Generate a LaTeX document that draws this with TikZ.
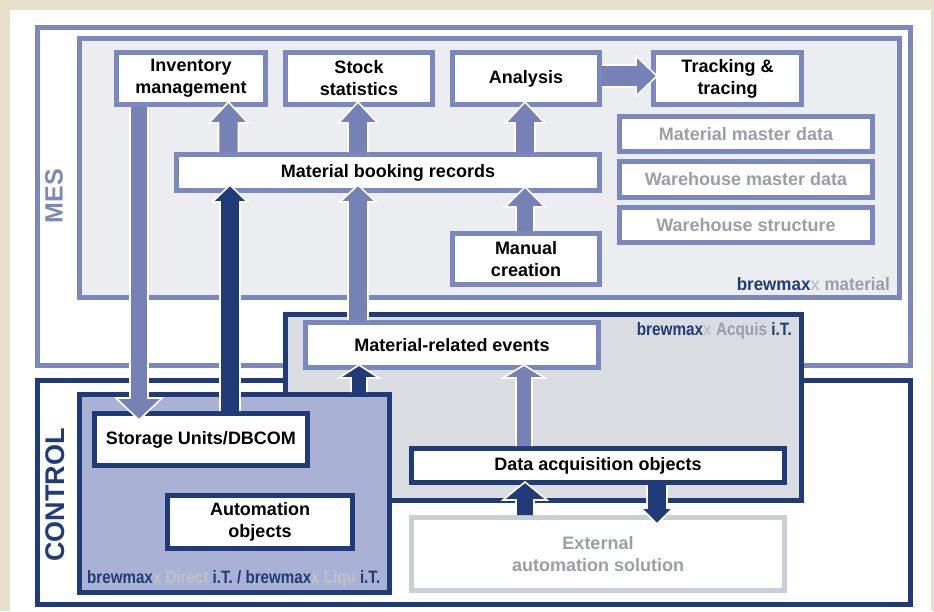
\documentclass[tikz,border=0pt]{standalone}
\usepackage{fontspec}
\setmainfont{Liberation Sans}
\usetikzlibrary{calc}
\definecolor{beige}{HTML}{E9E0CB}
\definecolor{lb}{HTML}{7B88BE}
\definecolor{la}{HTML}{7682B5}
\definecolor{db}{HTML}{213B78}
\definecolor{dirfill}{HTML}{A9B2D4}
\definecolor{acqfill}{HTML}{D9DCE0}
\definecolor{mesfill}{HTML}{ECEDF1}
\definecolor{gtxt}{HTML}{999EA7}
\definecolor{lgx}{HTML}{BEC2C9}
\definecolor{extb}{HTML}{CBCFD5}
\newcommand\blockarr[6]{%
  \coordinate (as) at (#2);
  \coordinate (at) at (#3);
  \coordinate (ab) at ($(at)!#6!(as)$);
  \fill[#1] ($(as)!#4!90:(at)$) -- ($(ab)!#4!90:(at)$) -- ($(ab)!#5!90:(at)$) -- (at)
    -- ($(ab)!#5!-90:(at)$) -- ($(ab)!#4!-90:(at)$) -- ($(as)!#4!-90:(at)$) -- cycle;
  \draw[white, line width=1.6pt, line join=miter] ($(as)!#4!90:(at)$) -- ($(ab)!#4!90:(at)$) -- ($(ab)!#5!90:(at)$) -- (at)
    -- ($(ab)!#5!-90:(at)$) -- ($(ab)!#4!-90:(at)$) -- ($(as)!#4!-90:(at)$);
}
\tikzset{
  cont/.style={rectangle, line width=5pt, inner sep=0pt},
  box/.style={rectangle, draw=lb, line width=5pt, fill=white, inner sep=0pt, align=center,
    font=\bfseries\fontsize{18}{22}\selectfont},
  dbox/.style={box, draw=db},
  gbox/.style={box, text=gtxt},
}
\begin{document}
\begin{tikzpicture}[x=1pt,y=-1pt]
\useasboundingbox (0,0) rectangle (934,611);
\fill[beige] (0,0) rectangle (934,611);
\fill[white] (10,10) rectangle (931,611);
% containers
\node[cont, draw=lb, fill=white, minimum width=872.5pt, minimum height=337.5pt] (mes) at (473.75,196.25) {};
\node[cont, draw=lb, fill=mesfill, minimum width=820pt, minimum height=259pt] (mat) at (489.5,168) {};
\node[cont, draw=db, fill=white, minimum width=872.5pt, minimum height=224pt] (ctl) at (473.75,492.5) {};
\node[cont, draw=db, fill=acqfill, minimum width=516pt, minimum height=186pt] (acq) at (543.5,407.5) {};
\node[cont, draw=db, fill=dirfill, minimum width=310pt, minimum height=198pt] (dir) at (234.5,493.5) {};
% MES boxes
\node[box, minimum width=149pt, minimum height=52pt] (inv) at (191,78.5) {Inventory\\management};
\node[box, minimum width=147pt, minimum height=52pt] (stock) at (359,78.5) {Stock\\statistics};
\node[box, minimum width=147pt, minimum height=52pt] (ana) at (526,78.5) {Analysis};
\node[box, minimum width=148pt, minimum height=52pt] (track) at (727.5,78.5) {Tracking \&\\tracing};
\node[gbox, minimum width=253pt, minimum height=35pt] (mmd) at (746,134) {Material master data};
\node[gbox, minimum width=253pt, minimum height=36pt] (wmd) at (746,179.5) {Warehouse master data};
\node[gbox, minimum width=253pt, minimum height=35pt] (ws) at (746,225) {Warehouse structure};
\node[box, minimum width=423pt, minimum height=36pt] (book) at (388,172.5) {Material booking records};
\node[box, minimum width=147pt, minimum height=51pt] (man) at (526,259) {Manual\\creation};
\node[box, minimum width=293pt, minimum height=45pt] (mre) at (452,345) {Material-related events};
% CONTROL boxes
\node[dbox, minimum width=213pt, minimum height=52pt] (stor) at (201,439.5) {Storage Units/DBCOM};
\node[dbox, minimum width=185pt, minimum height=53pt] (auto) at (260,522) {Automation\\objects};
\node[dbox, minimum width=373pt, minimum height=34pt] (daq) at (598,465.5) {Data acquisition objects};
\node[box, draw=extb, text=gtxt, minimum width=373pt, minimum height=73pt] (ext) at (598,554) {External\\automation solution};
% labels
\node[rotate=90, text=lb, font=\bfseries\fontsize{25}{25}\selectfont] (meslbl) at (54,196) {MES};
\node[rotate=90, text=db, font=\bfseries\fontsize{27}{27}\selectfont] (ctllbl) at (55,495) {CONTROL};
\node[anchor=base east, inner sep=0pt] (bmmat) at (890,290) {\resizebox{153pt}{13pt}{\bfseries\textcolor{db}{brewmax}\textcolor{lgx}{x} \textcolor{gtxt}{material}}};
\node[anchor=base east, inner sep=0pt] (bmacq) at (792,335) {\resizebox{155pt}{13pt}{\bfseries\textcolor{db}{brewmax}\textcolor{lgx}{x} \textcolor{gtxt}{Acquis} \textcolor{db}{i.T.}}};
\node[anchor=base west, inner sep=0pt] (bmdir) at (87,583) {\resizebox{293pt}{13pt}{\bfseries\textcolor{db}{brewmax}\textcolor{lgx}{x Direct} \textcolor{db}{i.T. / brewmax}\textcolor{lgx}{x Liqu} \textcolor{db}{i.T.}}};
% x positions for arrows
\coordinate (xinv) at (139,0);
\coordinate (xa) at (228.5,0);
\coordinate (xd) at (230,0);
\coordinate (xb) at (358,0);
\coordinate (xe) at (359,0);
\coordinate (xc) at (525,0);
\coordinate (xf) at (524,0);
\coordinate (xg) at (657,0);
\coordinate (yt) at (0,76);
% arrows
\blockarr{la}{book.north -| xa}{$(inv.south -| xa)+(0,-5)$}{10pt}{19.5pt}{21pt}
\blockarr{la}{book.north -| xb}{$(stock.south -| xb)+(0,-5)$}{10pt}{19.5pt}{21pt}
\blockarr{la}{book.north -| xc}{$(ana.south -| xc)+(0,-5)$}{10pt}{19.5pt}{21pt}
\blockarr{la}{man.north -| xc}{$(book.south -| xc)+(0,-6)$}{9pt}{20pt}{20pt}
\blockarr{la}{ana.east |- yt}{$(track.west |- yt)+(6,0)$}{11pt}{20pt}{21pt}
\blockarr{la}{mre.north -| xb}{$(book.south -| xb)+(0,-8)$}{10pt}{18pt}{17pt}
\blockarr{db}{stor.north -| xd}{$(book.south -| xd)+(0,-8)$}{10pt}{17.5pt}{17pt}
\blockarr{la}{inv.south -| xinv}{$(stor.north -| xinv)+(0,9)$}{9pt}{23pt}{22pt}
\blockarr{db}{dir.north -| xe}{$(mre.south -| xe)+(0,-5)$}{8pt}{20pt}{13pt}
\blockarr{la}{daq.north -| xf}{$(mre.south -| xf)+(0,-5)$}{8pt}{21pt}{13pt}
\blockarr{db}{ext.north -| xc}{$(daq.south -| xc)+(0,-3)$}{9pt}{22pt}{18pt}
\blockarr{db}{daq.south -| xg}{$(ext.north -| xg)+(0,9)$}{10pt}{16pt}{16pt}
\end{tikzpicture}
\end{document}
